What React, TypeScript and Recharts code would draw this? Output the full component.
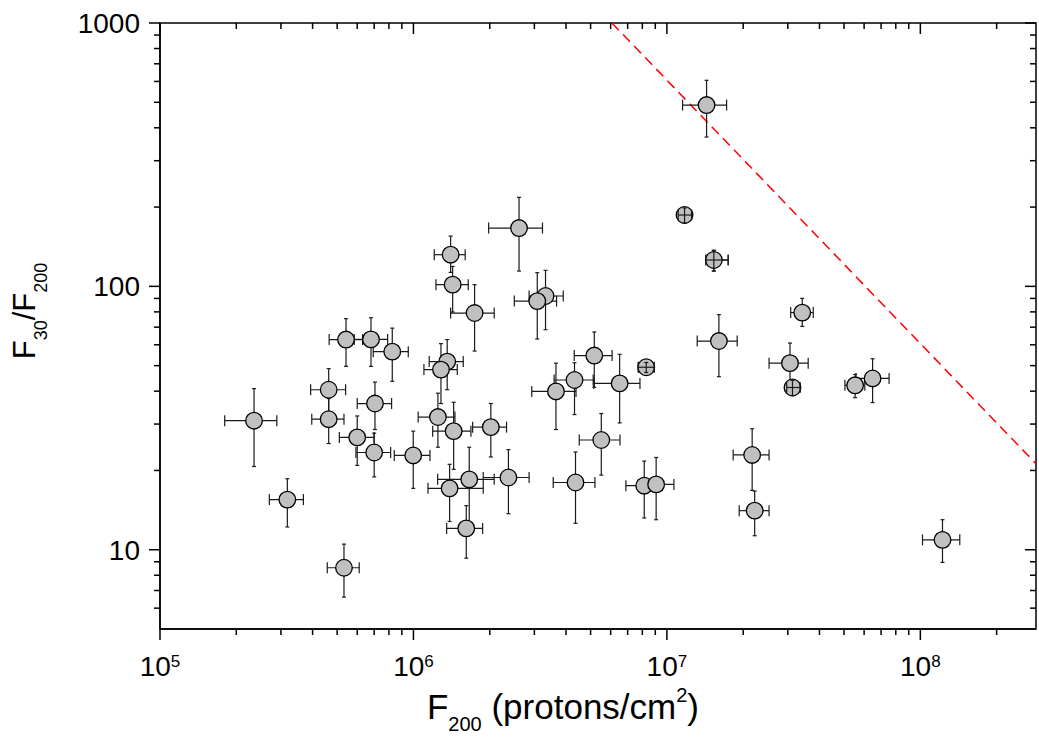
import {
  ScatterChart,
  Scatter,
  XAxis,
  YAxis,
  ErrorBar,
  ReferenceLine,
  ReferenceArea,
} from "recharts";

// F200 (protons/cm2) with its lower / upper error limits
const f200 = [
  2.35e5, 3.18e5, 5.32e5, 5.42e5, 6.8e5, 8.25e5, 4.63e5, 4.63e5, 7.05e5, 6.0e5,
  7.0e5, 9.98e5, 2.61e6, 1.402e6, 1.428e6, 1.743e6, 3.32e6, 3.08e6, 1.359e6, 1.284e6,
  5.17e6, 4.32e6, 3.65e6, 6.51e6, 8.29e6, 1.249e6, 1.441e6, 2.02e6, 1.66e6, 1.389e6,
  2.37e6, 1.616e6, 4.36e6, 5.51e6, 8.14e6, 9.07e6, 1.434e7, 1.174e7, 1.532e7, 3.42e7,
  1.604e7, 3.06e7, 3.13e7, 5.53e7, 6.48e7, 2.17e7, 2.22e7, 1.223e8,
];
const f200Lo = [
  1.8e5, 2.7e5, 4.57e5, 4.65e5, 5.84e5, 6.94e5, 3.93e5, 3.97e5, 6.0e5, 5.1e5,
  5.93e5, 8.4e5, 1.98e6, 1.208e6, 1.227e6, 1.402e6, 2.86e6, 2.5e6, 1.154e6, 1.1e6,
  4.31e6, 3.59e6, 2.93e6, 5.15e6, 7.71e6, 1.044e6, 1.191e6, 1.712e6, 1.246e6, 1.141e6,
  1.885e6, 1.352e6, 3.56e6, 4.51e6, 6.89e6, 7.71e6, 1.153e7, 1.108e7, 1.425e7, 3.08e7,
  1.317e7, 2.53e7, 2.97e7, 5.04e7, 5.57e7, 1.826e7, 1.929e7, 1.02e8,
];
const f200Hi = [
  2.89e5, 3.68e5, 6.11e5, 6.3e5, 7.91e5, 9.54e5, 5.4e5, 5.32e5, 8.2e5, 6.99e5,
  8.13e5, 1.162e6, 3.23e6, 1.6e6, 1.645e6, 2.083e6, 3.9e6, 3.67e6, 1.572e6, 1.489e6,
  6.08e6, 5.12e6, 4.38e6, 7.83e6, 8.91e6, 1.458e6, 1.686e6, 2.33e6, 2.083e6, 1.885e6,
  2.86e6, 1.875e6, 5.2e6, 6.53e6, 9.58e6, 1.066e7, 1.72e7, 1.251e7, 1.745e7, 3.78e7,
  1.894e7, 3.61e7, 3.35e7, 6.04e7, 7.53e7, 2.53e7, 2.53e7, 1.431e8,
];

// F30/F200 with its lower / upper error limits
const ratio = [
  30.9, 15.5, 8.54, 62.8, 62.9, 56.5, 40.5, 31.3, 35.9, 26.7,
  23.4, 22.8, 166.5, 131.9, 101.5, 79.2, 91.9, 87.9, 51.8, 48.3,
  54.6, 44.1, 39.9, 42.8, 49.3, 31.9, 28.2, 29.2, 18.5, 17.1,
  18.8, 12.05, 18.0, 26.1, 17.5, 17.7, 488, 186.6, 125.9, 79.5,
  62.0, 51.1, 41.3, 42.1, 44.7, 22.9, 14.07, 10.9,
];
const ratioLo = [
  20.7, 12.2, 6.61, 49.7, 49.7, 43.6, 31.9, 25.3, 28.6, 20.9,
  18.9, 17.1, 114.3, 113, 79.9, 56.8, 68.5, 63.1, 40.5, 35.9,
  41.4, 32.6, 28.6, 30.3, 47.1, 24.5, 20.2, 22.5, 12.4, 12.8,
  13.7, 9.29, 12.6, 19.2, 13.2, 13.0, 369, 174.0, 114.3, 70.5,
  45.4, 41.0, 38.5, 37.8, 36.2, 16.8, 11.3, 8.95,
];
const ratioHi = [
  40.9, 18.6, 10.5, 75.4, 76.0, 69.4, 48.7, 37.5, 43.3, 32.2,
  27.7, 28.2, 217.8, 155.2, 119, 101.5, 115.0, 112.7, 62.8, 60.6,
  67.1, 51.3, 51.1, 55.2, 51.4, 39.3, 36.3, 35.9, 24.5, 21.1,
  24.0, 14.7, 23.5, 32.9, 21.7, 22.4, 606, 198.4, 137, 90.0,
  78.1, 60.9, 44.0, 46.3, 53.1, 28.8, 16.7, 13.0,
];

// points whose short error bars show on top of the marker
const overlayIdx = [24, 37, 38, 42];

// dashed limit line F30/F200 ~ 1/F200
const limitX = [6.07e6, 2.86e8];
const limitY = [1000, 21.2];

const xMajorTicks = [1e5, 1e6, 1e7, 1e8];
const xMinorTicks = [
  2e5, 3e5, 4e5, 5e5, 6e5, 7e5, 8e5, 9e5,
  2e6, 3e6, 4e6, 5e6, 6e6, 7e6, 8e6, 9e6,
  2e7, 3e7, 4e7, 5e7, 6e7, 7e7, 8e7, 9e7,
  2e8,
];
const yMajorTicks = [10, 100, 1000];
const yMinorTicks = [6, 7, 8, 9, 20, 30, 40, 50, 60, 70, 80, 90, 200, 300, 400, 500, 600, 700, 800, 900];

const xDomain = [1e5, 2.86e8];
const yDomain = [5, 1000];

const W = 1039;
const H = 738;
const MARGIN = { top: 23, right: 3, bottom: 0, left: 0 };
const Y_AXIS_W = 160;
const X_AXIS_H = 109;
const PLOT_LEFT = MARGIN.left + Y_AXIS_W;
const PLOT_TOP = MARGIN.top;
const PLOT_RIGHT = W - MARGIN.right;
const PLOT_BOTTOM = H - MARGIN.bottom - X_AXIS_H;

const FONT = "'Liberation Sans', Arial, Helvetica, sans-serif";
const AXIS_W = 1.5;

const points = f200.map((x, i) => ({
  x,
  y: ratio[i],
  ex: [x - f200Lo[i], f200Hi[i] - x],
  ey: [ratio[i] - ratioLo[i], ratioHi[i] - ratio[i]],
}));
const overlayPoints = overlayIdx.map((i) => points[i]);

const isMajor = (v: number) => Math.abs(Math.log10(v) - Math.round(Math.log10(v))) < 1e-9;

const XTick = (props: any) => {
  const { x, y, payload } = props;
  const v = payload.value;
  const major = isMajor(v);
  const len = major ? 11 : 6;
  return (
    <g>
      <line x1={x} y1={y} x2={x} y2={y + len} stroke="#000" strokeWidth={AXIS_W} />
      <line x1={x} y1={PLOT_TOP} x2={x} y2={PLOT_TOP + len} stroke="#000" strokeWidth={AXIS_W} />
      {major && (
        <text x={x} y={y + 47} textAnchor="middle" fontFamily={FONT} fontSize={28} fill="#000">
          10
          <tspan dy={-9} fontSize={17}>
            {Math.round(Math.log10(v))}
          </tspan>
        </text>
      )}
    </g>
  );
};

const YTick = (props: any) => {
  const { x, y, payload } = props;
  const v = payload.value;
  const major = isMajor(v);
  const len = major ? 11 : 6;
  return (
    <g>
      <line x1={x} y1={y} x2={x - len} y2={y} stroke="#000" strokeWidth={AXIS_W} />
      <line x1={PLOT_RIGHT} y1={y} x2={PLOT_RIGHT - len} y2={y} stroke="#000" strokeWidth={AXIS_W} />
      {major && (
        <text x={x - 20} y={y + 10} textAnchor="end" fontFamily={FONT} fontSize={28} fill="#000">
          {v}
        </text>
      )}
    </g>
  );
};

const XTitle = () => (
  <text
    x={(PLOT_LEFT + PLOT_RIGHT) / 2 - 35}
    y={PLOT_BOTTOM + 90}
    textAnchor="middle"
    fontFamily={FONT}
    fontSize={35}
    fill="#000"
  >
    F
    <tspan dy={12} fontSize={20}>
      200
    </tspan>
    <tspan dy={-12}>{" (protons/cm"}</tspan>
    <tspan dy={-17} fontSize={20}>
      2
    </tspan>
    <tspan dy={17}>)</tspan>
  </text>
);

const YTitle = () => {
  const cx = 35;
  const cy = (PLOT_TOP + PLOT_BOTTOM) / 2 - 15;
  return (
    <text
      x={cx}
      y={cy}
      transform={`rotate(-90, ${cx}, ${cy})`}
      textAnchor="middle"
      fontFamily={FONT}
      fontSize={31}
      fill="#000"
    >
      F
      <tspan dy={12} fontSize={18}>
        30
      </tspan>
      <tspan dy={-12}>/F</tspan>
      <tspan dy={12} fontSize={18}>
        200
      </tspan>
    </text>
  );
};

const Marker = (props: any) => (
  <circle cx={props.cx} cy={props.cy} r={8.3} fill="#c0c0c0" stroke="#000" strokeWidth={1.3} />
);

const NoMarker = () => <g />;

export default function App() {
  const barProps: any = { stroke: "#1a1a1a", strokeWidth: 1.2, isAnimationActive: false };
  const topBarProps: any = { ...barProps, zIndex: 2000 };
  return (
    <div style={{ position: "absolute", left: 0, top: 0, width: W, height: H, background: "#fff" }}>
      <ScatterChart width={W} height={H} margin={MARGIN}>
        <XAxis
          dataKey="x"
          type="number"
          scale="log"
          domain={xDomain}
          allowDataOverflow
          ticks={[...xMajorTicks, ...xMinorTicks]}
          interval={0}
          tick={(p: any) => <XTick {...p} />}
          tickLine={false}
          tickSize={0}
          tickMargin={0}
          axisLine={{ stroke: "#000", strokeWidth: AXIS_W }}
          height={X_AXIS_H}
          label={{ content: () => <XTitle /> }}
        />
        <YAxis
          dataKey="y"
          type="number"
          scale="log"
          domain={yDomain}
          allowDataOverflow
          ticks={[...yMajorTicks, ...yMinorTicks]}
          interval={0}
          tick={(p: any) => <YTick {...p} />}
          tickLine={false}
          tickSize={0}
          tickMargin={0}
          axisLine={{ stroke: "#000", strokeWidth: AXIS_W }}
          width={Y_AXIS_W}
          label={{ content: () => <YTitle /> }}
        />
        <ReferenceArea
          x1={xDomain[0]}
          x2={xDomain[1]}
          y1={yDomain[0]}
          y2={yDomain[1]}
          fill="none"
          fillOpacity={0}
          stroke="#000"
          strokeWidth={AXIS_W}
          ifOverflow="visible"
        />
        <ReferenceLine
          segment={[
            { x: limitX[0], y: limitY[0] },
            { x: limitX[1], y: limitY[1] },
          ]}
          stroke="#ff0000"
          strokeWidth={1.5}
          strokeDasharray="10 6"
          ifOverflow="visible"
        />
        <Scatter data={points} shape={<Marker />} isAnimationActive={false}>
          <ErrorBar dataKey="ex" direction="x" width={5.5} {...barProps} />
          <ErrorBar dataKey="ey" direction="y" width={2} {...barProps} />
        </Scatter>
        <Scatter data={overlayPoints} shape={<NoMarker />} isAnimationActive={false} zIndex={2000}>
          <ErrorBar dataKey="ex" direction="x" width={5} {...topBarProps} />
          <ErrorBar dataKey="ey" direction="y" width={2} {...topBarProps} />
        </Scatter>
      </ScatterChart>
    </div>
  );
}
